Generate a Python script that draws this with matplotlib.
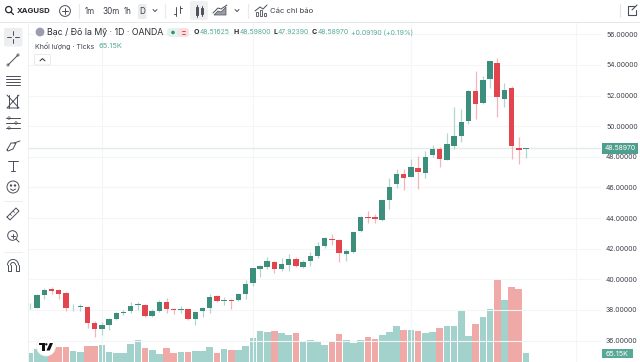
import matplotlib
matplotlib.use("Agg")
import matplotlib.pyplot as plt
from matplotlib.patches import Rectangle, Circle, FancyBboxPatch, Polygon
import numpy as np

opens = [38.23,38.12,38.95,39.34,39.30,39.08,38.17,38.21,38.21,37.14,36.73,37.03,37.40,37.80,37.90,38.34,38.34,37.60,37.93,38.51,
         38.06,37.99,38.04,37.42,37.93,38.14,38.88,38.58,38.67,38.62,39.02,39.73,40.69,40.80,41.15,40.65,40.95,41.32,40.80,41.19,
         41.54,42.19,42.65,42.56,41.67,41.78,43.13,44.04,44.04,43.89,45.16,46.22,46.90,46.68,47.29,46.92,48.10,48.49,47.81,48.71,
         49.38,50.32,52.30,51.49,53.06,54.13,51.80,52.49,48.55,48.51625]
highs = [38.43,39.04,39.41,39.52,39.36,39.17,38.38,38.36,38.25,37.25,37.19,37.45,37.86,37.97,38.49,38.49,38.38,38.06,38.65,38.75,
         38.10,38.25,38.08,37.95,38.17,39.04,38.95,38.84,38.69,39.08,39.97,40.71,40.93,41.45,41.22,41.41,41.67,41.48,41.26,41.76,
         42.45,42.74,42.96,42.61,41.95,43.09,44.11,44.46,44.26,45.20,46.62,47.18,47.18,47.83,48.05,48.36,48.77,48.64,49.55,51.25,
         51.12,52.38,53.60,53.28,54.24,54.47,52.80,52.60,49.29,48.598]
lows = [38.08,38.10,38.71,39.04,38.71,37.95,37.90,37.93,36.79,36.21,36.36,36.69,37.34,37.64,37.82,37.99,37.56,37.56,37.88,37.82,
        37.71,37.82,37.34,36.99,37.56,37.78,38.54,38.34,38.08,38.60,38.73,39.56,40.15,40.65,40.41,40.56,40.56,40.80,40.76,40.89,
        41.39,42.02,42.26,41.13,41.22,41.69,43.07,43.65,43.70,43.80,44.61,45.94,45.81,46.66,45.92,46.64,47.99,47.33,47.77,48.51,
        48.99,50.14,50.47,51.45,52.47,50.62,51.27,47.86,47.55,47.9239]
closes = [38.28,38.95,39.30,39.26,39.06,38.15,38.21,38.25,37.12,36.73,37.03,37.40,37.82,37.84,38.28,38.38,37.60,37.90,38.51,38.04,
          38.01,38.06,37.38,37.88,38.15,38.86,38.56,38.65,38.60,39.04,39.69,40.71,40.89,41.22,40.69,40.97,41.35,40.87,41.15,41.54,
          42.17,42.67,42.56,41.69,41.82,43.07,44.04,44.00,43.91,45.18,46.05,46.90,46.64,47.31,46.99,47.99,48.51,47.83,48.86,49.38,
          50.27,52.32,51.47,53.02,54.23,51.91,52.36,48.68,48.47,48.5897]
volumes = [70,97,70,107,110,112,80,72,122,122,130,75,67,67,135,167,107,90,60,105,
           65,75,77,85,85,110,70,95,90,90,120,180,232,227,232,217,200,215,147,162,
           152,125,150,212,167,142,165,190,170,202,222,272,240,240,230,220,222,252,270,270,
           387,197,287,334,394,617,464,562,547,65.15]
price_ticks = [36,38,40,42,44,46,48,50,52,54,56]
month_ticks = [10,31,53,76]
symbol = "XAGUSD"
title = "Bạc / Đô la Mỹ · 1D · OANDA"
last_price = 48.58970
last_volume = "65.15K"

GREEN, RED = "#3C8F7C", "#E2454D"
GWICK, RWICK = "#B4D5CD", "#F5B4B8"
GVOL, RVOL = "#A3D2CC", "#EFA9A6"
TXT = "#3A3E48"
TEAL = "#57AB9A"
plt.rcParams['font.family'] = ['Inter', 'DejaVu Sans']

W, H = 640, 362
fig = plt.figure(figsize=(W/100, H/100), dpi=100, facecolor="white")
L, R, T, B = 29, 601, 23, 362
rect = [L/W, 1-B/H, (R-L)/W, (B-T)/H]

# volume (behind)
axv = fig.add_axes(rect, zorder=1)
x = np.arange(len(opens))
up = np.array(closes) >= np.array(opens)
axv.bar(x, volumes, width=0.92, color=[GVOL if u else RVOL for u in up], linewidth=0)
axv.set_xlim(-0.14, 79.44)
axv.set_ylim(0, 2539)
axv.axis("off")

# price
ax = fig.add_axes(rect, zorder=2)
ax.patch.set_alpha(0)
ax.set_xlim(-0.14, 79.44)
ax.set_ylim(34.596, 56.74)
ax.set_xticks(month_ticks)
ax.set_xticklabels([])
ax.set_yticks(price_ticks)
ax.set_yticklabels([f"{p:.5f}" for p in price_ticks], fontsize=4.95, color="#3E424C")
ax.yaxis.tick_right()
ax.tick_params(length=0, pad=3.6)
ax.grid(True, color="#F4F5F6", linewidth=0.8)
ax.set_axisbelow(True)
for s in ax.spines.values():
    s.set_visible(False)
ax.vlines(x, lows, highs, colors=[GWICK if u else RWICK for u in up], linewidth=0.9, zorder=3)
bot = np.minimum(opens, closes)
hgt = np.maximum(np.abs(np.array(closes)-np.array(opens)), 0.05)
ax.bar(x, hgt, bottom=bot, width=0.76, color=[GREEN if u else RED for u in up], linewidth=0, zorder=4)
ax.axhline(last_price, color="#E2EBE9", linewidth=1.0, zorder=2.5)

# overlay in pixel space
ov = fig.add_axes([0, 0, 1, 1], zorder=5)
ov.set_xlim(0, W); ov.set_ylim(H, 0); ov.axis("off"); ov.patch.set_alpha(0)
IC = "#4A4E58"

def t(px, py, s, size=5.0, color=TXT, weight="normal", ha="left"):
    ov.text(px, py, s, fontsize=size, color=color, fontweight=weight, ha=ha, va="center")

def ln(xs, ys, c=IC, lw=0.7):
    ov.plot(xs, ys, color=c, linewidth=lw, solid_capstyle="round")

# frame
ov.add_patch(Rectangle((0, 21.6), W, 1.4, color="#E6E7E9", lw=0))
ov.add_patch(Rectangle((27.6, 22), 1.6, H, color="#EEEFF0", lw=0))

# top bar
ov.add_patch(Circle((8.7, 9.6), 3.1, fill=False, ec="#25282F", lw=0.9))
ln([11, 13.5], [12, 14.5], "#25282F", 0.9)
t(17, 11, symbol, 5.6, "#25282F", "bold")
ov.add_patch(Circle((65, 11), 5.4, fill=False, ec=IC, lw=0.7))
ln([62, 68], [11, 11]); ln([65, 65], [8, 14])
ln([78.5, 78.5], [4, 18], "#E8E9EB", 0.8)
t(84.5, 11, "1m", 5.8); t(102, 11, "30m", 5.8); t(124, 11, "1h", 5.8)
ov.add_patch(FancyBboxPatch((138, 4), 8.5, 15, boxstyle="round,pad=0,rounding_size=1.5", fc="#EBECEE", ec="none"))
t(139.3, 11, "D", 5.8)
ln([153, 155, 157], [9.5, 11.5, 9.5])
ln([164.5, 164.5], [4, 18], "#E8E9EB", 0.8)
ln([176, 176], [7, 16]); ln([174, 176], [14, 14]); ln([180, 180], [6, 13]); ln([180, 182], [8, 8])
ov.add_patch(FancyBboxPatch((190, 1), 18, 19, boxstyle="round,pad=0,rounding_size=2", fc="#EFF0F1", ec="none"))
ov.add_patch(Rectangle((195.5, 7), 2.6, 8, fill=False, ec=IC, lw=0.7)); ln([196.8, 196.8], [5, 17])
ov.add_patch(Rectangle((201, 8), 2.4, 6, fill=False, ec=IC, lw=0.7)); ln([202.2, 202.2], [6, 16])
ov.add_patch(Polygon([(214, 15), (218, 11), (221, 12), (226, 7), (226, 15)], fc="#9A9DA4", ec=IC, lw=0.5))
ln([213, 218, 221, 227], [13, 8, 9, 5])
ln([235, 237, 239], [9.5, 11.5, 9.5])
ln([247.5, 247.5], [4, 18], "#E8E9EB", 0.8)
ln([255, 260, 263, 267], [11, 7, 9, 5])
for xb, yb in [(256, 12), (260, 10), (264, 13)]:
    ov.add_patch(Rectangle((xb, yb), 2.2, 16-yb, fill=False, ec=IC, lw=0.6))
t(270, 11, "Các chỉ báo", 5.5)
ln([619.5, 619.5], [4, 17], "#E4E5E7", 0.8)
ln([634, 628, 628, 636, 636], [6, 6, 15, 15, 10], IC, 0.8)
ln([632, 637], [10, 5], IC, 0.8)

# legend
ov.add_patch(Circle((40, 32), 4.4, fc="#9A9DB0", ec="none"))
t(47, 32.3, title, 6.3, "#2B2E36")
ov.add_patch(FancyBboxPatch((167, 28), 22, 9, boxstyle="round,pad=0,rounding_size=4", fc="#E4F2EE", ec="none"))
ov.add_patch(FancyBboxPatch((178, 28), 11, 9, boxstyle="round,pad=0,rounding_size=4", fc="#FADFE2", ec="none"))
ov.add_patch(Circle((173, 32.5), 1.8, fc="#2F8F7A", ec="none"))
ln([181.5, 185], [31.4, 31.4], "#E2454D", 0.7); ln([181.5, 185], [33.6, 33.6], "#E2454D", 0.7)
for px, lab, val, vx in [(194, "O", "48.51625", 199.8), (234, "H", "48.59800", 239.6),
                         (273, "L", "47.92390", 278), (312, "C", "48.58970", 318)]:
    t(px, 32.4, lab, 5.0, "#2B2E36", "bold")
    t(vx, 32.4, val, 4.95, TEAL)
t(351.3, 32.4, "+0.09190 (+0.19%)", 4.95, TEAL)
t(35, 46, "Khối lượng · Ticks", 5.1, "#3E424C")
t(98.5, 46, last_volume, 5.4, TEAL)
ov.add_patch(FancyBboxPatch((34.5, 54.5), 16, 10.5, boxstyle="round,pad=0,rounding_size=1.5", fc="white", ec="#E4E5E7", lw=0.6))
ln([40, 42.5, 45], [60.8, 58.6, 60.8], "#2B2E36", 0.7)

# left toolbar
ov.add_patch(FancyBboxPatch((4, 28), 18.5, 18.5, boxstyle="round,pad=0,rounding_size=2", fc="#EDEEF0", ec="none"))
ln([13, 13], [31, 35]); ln([13, 13], [39, 43]); ln([7, 11], [37, 37]); ln([15, 19], [37, 37])
ln([8, 18], [65, 55]); ov.add_patch(Circle((8, 65), 1.1, fc="white", ec=IC, lw=0.5)); ov.add_patch(Circle((18, 55), 1.1, fc="white", ec=IC, lw=0.5))
for yy in [75.5, 78.5, 81.5, 84.5]:
    ln([6, 20], [yy, yy])
ln([7, 19, 7, 19], [95, 108, 108, 95]); ln([9, 9], [95, 108]); ln([17, 17], [95, 108])
for yy in [118, 123, 128]:
    ln([6, 20], [yy, yy]); ov.add_patch(Circle((9 if yy != 123 else 16, yy), 1.2, fc="white", ec=IC, lw=0.5))
ln([7, 11, 16, 13, 8, 7], [150, 143, 143, 149, 151, 150]); ln([14, 20], [143, 141])
ln([8, 18], [161, 161]); ln([13, 13], [161, 171]); ln([11, 15], [171, 171])
ov.add_patch(Circle((13, 187), 6, fill=False, ec=IC, lw=0.7))
ov.add_patch(Circle((11, 185.5), 0.5, color=IC)); ov.add_patch(Circle((15, 185.5), 0.5, color=IC))
ln([10.5, 13, 15.5], [189, 190.5, 189])
ln([4, 22], [201, 201], "#EDEEF0", 0.8)
ln([7, 16, 19, 10, 7], [217, 208, 211, 220, 217]); ln([10, 11.5], [214, 215.5], IC, 0.5); ln([13, 14.5], [211, 212.5], IC, 0.5)
ov.add_patch(Circle((12.5, 235.5), 4.8, fill=False, ec=IC, lw=0.7))
ln([16, 19], [239, 242]); ln([10.5, 14.5], [235.5, 235.5]); ln([12.5, 12.5], [233.5, 237.5])
ln([4, 22], [252, 252], "#EDEEF0", 0.8)
th = np.linspace(np.pi, 0, 30)
ln(13+5.5*np.cos(th), 265-5.5*np.sin(th)); ln(13+2.5*np.cos(th), 265-2.5*np.sin(th))
ln([7.5, 7.5, 10.5, 10.5], [265, 271, 271, 265]); ln([15.5, 15.5, 18.5, 18.5], [265, 271, 271, 265])

# price tags
ov.add_patch(Rectangle((602, 143), 36, 10.5, color="#4E9F8D", lw=0))
t(620, 148.4, "48.58970", 4.95, "white", ha="center")
ov.add_patch(Rectangle((602, 348.7), 31, 9.6, color="#58A897", lw=0))
t(617.5, 353.6, last_volume, 5.2, "white", ha="center")

# logo
ov.add_patch(Circle((46, 346.5), 9.5, fc="white", ec="#F0F1F2", lw=0.5, zorder=6))
ov.add_patch(Polygon([(38.6, 343), (44.6, 343), (44.6, 350.5), (42.2, 350.5), (42.2, 345.4), (38.6, 345.4)], fc="#111111", ec="none", zorder=7))
ov.add_patch(Circle((46.3, 344.3), 1.15, fc="#111111", ec="none", zorder=7))
ov.add_patch(Polygon([(49.8, 343), (53, 343), (49.8, 350.5), (46.4, 350.5)], fc="#111111", ec="none", zorder=7))

fig.savefig("out.png", dpi=100, facecolor="white")
